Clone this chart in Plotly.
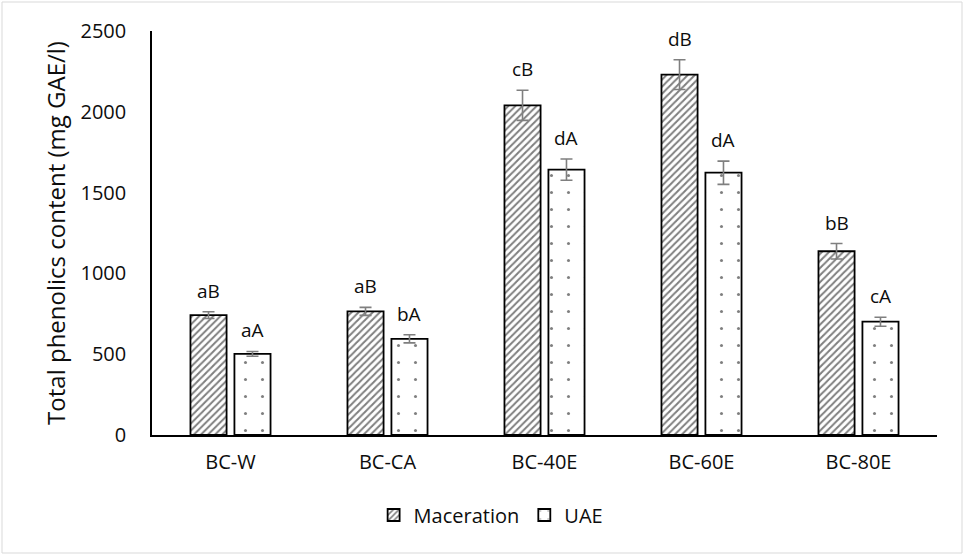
import plotly.graph_objects as go

categories = ["BC-W", "BC-CA", "BC-40E", "BC-60E", "BC-80E"]
maceration = [742, 765, 2040, 2230, 1137]
maceration_err = [21, 25, 93, 92, 48]
maceration_lbl = ["aB", "aB", "cB", "dB", "bB"]
uae = [502, 595, 1642, 1623, 701]
uae_err = [15, 25, 66, 72, 28]
uae_lbl = ["aA", "bA", "dA", "dA", "cA"]

W = 965
H = 556
ML, MR, MT, MB = 152, 28, 31, 121
PW = W - ML - MR
PH = H - MT - MB

idx = list(range(len(categories)))
bw = 0.23
off_m = -0.255
off_u = 0.025
font = "Open Sans, Lato, sans-serif"
txtc = "#0d0d0d"

fig = go.Figure()
fig.add_trace(go.Bar(
    x=idx, y=maceration, name="Maceration", width=bw, offset=off_m,
    marker=dict(color="white", line=dict(color="black", width=1.8),
                pattern=dict(shape="/", fgcolor="black", bgcolor="white", size=5, solidity=0.4)),
    error_y=dict(type="data", array=maceration_err, color="#7f7f7f", thickness=1.6, width=6),
))
fig.add_trace(go.Bar(
    x=idx, y=uae, name="UAE", width=bw, offset=off_u,
    marker=dict(color="white", line=dict(color="black", width=1.8),
                pattern=dict(shape=".", fgcolor="black", bgcolor="white", size=17, solidity=0.025)),
    error_y=dict(type="data", array=uae_err, color="#7f7f7f", thickness=1.6, width=6),
))

annotations = []
for i in idx:
    annotations.append(dict(x=i + off_m + bw / 2, y=maceration[i] + maceration_err[i],
                            xref="x", yref="y", text=maceration_lbl[i], showarrow=False,
                            yanchor="bottom", yshift=6,
                            font=dict(family=font, size=19, color=txtc)))
    annotations.append(dict(x=i + off_u + bw / 2, y=uae[i] + uae_err[i],
                            xref="x", yref="y", text=uae_lbl[i], showarrow=False,
                            yanchor="bottom", yshift=6,
                            font=dict(family=font, size=19, color=txtc)))

fig.update_layout(
    width=W, height=H,
    margin=dict(l=ML, r=MR, t=MT, b=MB),
    paper_bgcolor="white", plot_bgcolor="white",
    font=dict(family=font, size=20, color=txtc),
    showlegend=True,
    annotations=annotations,
    legend=dict(orientation="h", x=0.432, xanchor="center", y=-0.198, yanchor="middle",
                font=dict(family=font, size=20, color=txtc), itemwidth=30,
                traceorder="normal"),
    xaxis=dict(range=[-0.5, 4.5], tickvals=idx, ticktext=categories,
               showline=True, linecolor="black", linewidth=1.5, ticks="",
               showgrid=False, zeroline=False, fixedrange=True, ticklabelstandoff=8,
               tickfont=dict(family=font, size=20, color=txtc)),
    yaxis=dict(range=[0, 2500], tickvals=[0, 500, 1000, 1500, 2000, 2500],
               showline=True, linecolor="black", linewidth=1.5, ticks="",
               showgrid=False, zeroline=False, ticklabelstandoff=20,
               title=dict(text="Total phenolics content (mg GAE/l)",
                          font=dict(family=font, size=24, color=txtc), standoff=8),
               tickfont=dict(family=font, size=20, color=txtc)),
    shapes=[dict(type="rect", xref="paper", yref="paper",
                 x0=(2 - ML) / PW, x1=(W - 3 - ML) / PW,
                 y0=(H - MB - (H - 3)) / PH, y1=(H - MB - 2) / PH,
                 line=dict(color="#d9d9d9", width=1), fillcolor="rgba(0,0,0,0)")],
)

fig.write_html("out.html")
